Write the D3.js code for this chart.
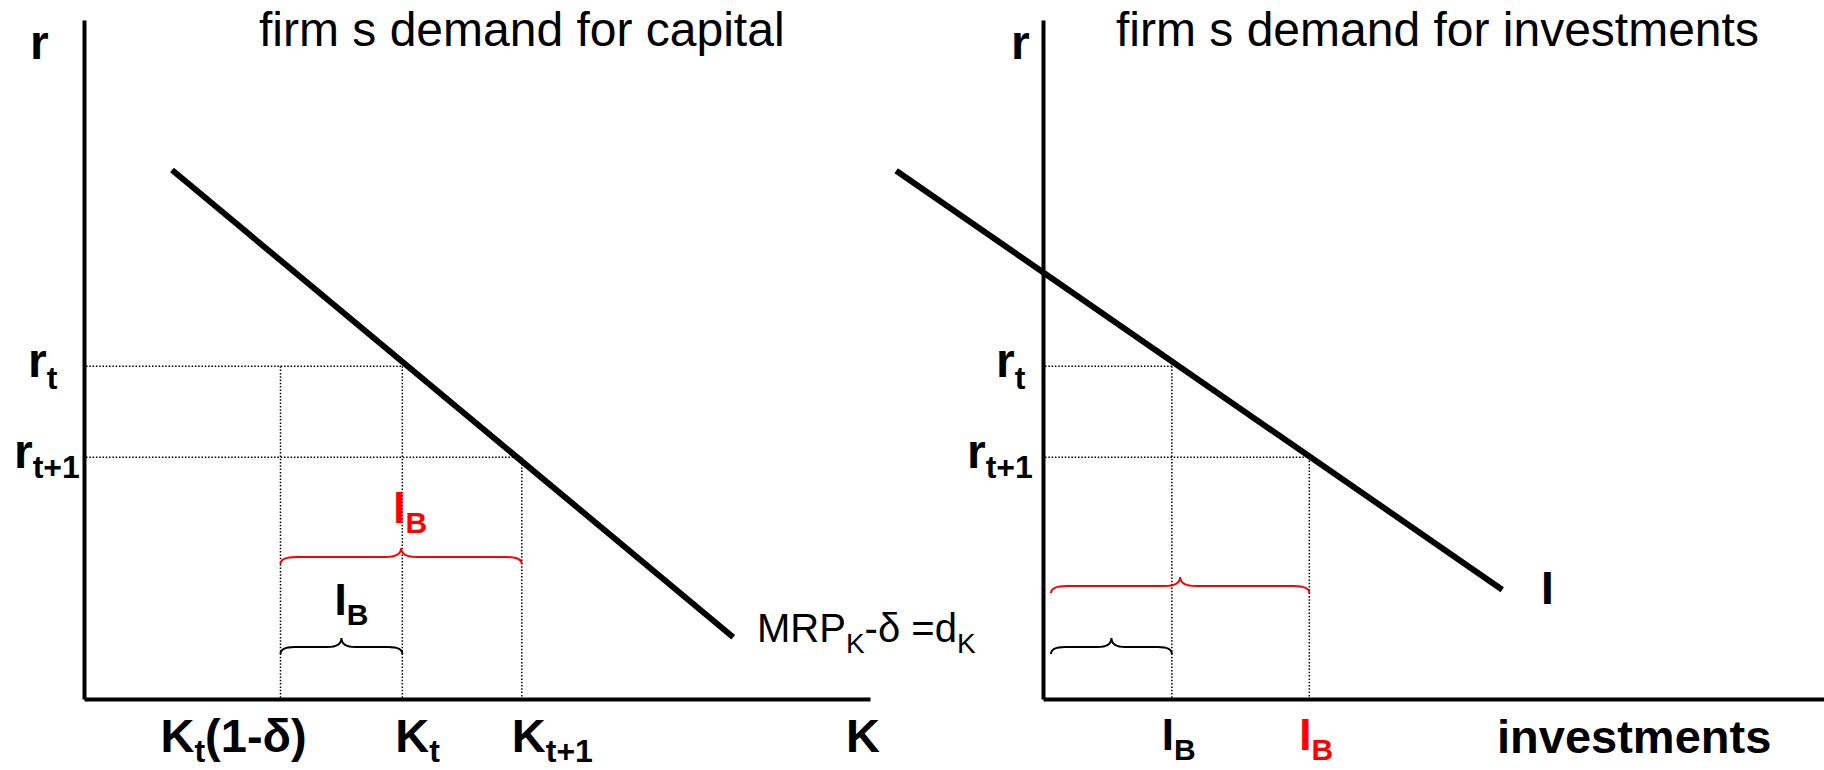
<!DOCTYPE html>
<html>
<head>
<meta charset="utf-8">
<script src="https://cdn.jsdelivr.net/npm/d3@7"></script>
<style>
  html, body { margin: 0; padding: 0; background: #fff; }
  svg { display: block; }
  text { font-family: "Liberation Sans", Arial, Helvetica, sans-serif; fill: #000; }
</style>
</head>
<body>
<svg id="chart" width="1824" height="770"></svg>
<script>
// ---- values (schematic units, r and quantities on a 0..10 scale) ----
const rateValues = [4.9, 3.56];              // r_t, r_{t+1}
const rateSubs = ["t", "t+1"];

const capitalValues = [2.5, 4.05, 5.57];     // K_t(1-δ), K_t, K_{t+1}
const capitalDemandX = [1.12, 8.26];         // MRP_K - δ line, K at its two ends
const capitalDemandR = [7.79, 0.91];         // r at its two ends

const investValues = [1.65, 3.41];           // I_B at r_t, I_B at r_{t+1}
const investDemandX = [-1.88, 5.88];         // I line, investment at its two ends
const investDemandR = [7.78, 1.61];

const titles = ["firm s demand for capital", "firm s demand for investments"];

// ---- layout ----
const svg = d3.select("#chart");
const RED = "#ff0000";

const yR = d3.scaleLinear().domain([0, 10]).range([699, 20]);
const xK = d3.scaleLinear().domain([0, 10]).range([84, 870]);
const xI = d3.scaleLinear().domain([0, 10]).range([1043, 1824]);

// label with an optional subscript and optional trailing text
function label(g, x, y, parts, opts) {
  const o = Object.assign({size: 48, sub: 32, weight: "bold", fill: "#000", shift: 11}, opts || {});
  const t = g.append("text").attr("x", x).attr("y", y)
    .attr("font-size", o.size).attr("font-weight", o.weight).style("fill", o.fill);
  let down = false;
  parts.forEach(p => {
    const ts = t.append("tspan").text(p.text);
    if (p.sub) {
      ts.attr("font-size", o.sub);
      if (!down) { ts.attr("dy", o.shift); down = true; }
    } else if (down) {
      ts.attr("dy", -o.shift); down = false;
    }
  });
  return t;
}

// curly brace lying on its back, tip pointing up
function brace(x1, x2, y, end, tip, r) {
  const xm = (x1 + x2) / 2;
  return `M${x1},${y + end} Q${x1},${y} ${x1 + r},${y} L${xm - r},${y} Q${xm},${y} ${xm},${y - tip}` +
         ` Q${xm},${y} ${xm + r},${y} L${x2 - r},${y} Q${x2},${y} ${x2},${y + end}`;
}

function dotted(g, x1, y1, x2, y2) {
  g.append("line").attr("x1", x1).attr("y1", y1).attr("x2", x2).attr("y2", y2)
    .attr("stroke", "#000").attr("stroke-width", 1.5).attr("stroke-dasharray", "1.5,1.8");
}

function axes(g, x) {
  const ax = g.append("g").attr("transform", `translate(0,${yR(0)})`)
    .call(d3.axisBottom(x).tickValues([]).tickSizeOuter(0));
  const ay = g.append("g").attr("transform", `translate(${x(0)},0)`)
    .call(d3.axisLeft(yR).tickValues([]).tickSizeOuter(0));
  [ax, ay].forEach(a => a.select(".domain").attr("stroke", "#000").attr("stroke-width", 4));
}

const line = d3.line();

// ================= left panel: demand for capital =================
const L = svg.append("g");

// guide lines
dotted(L, xK(0) + 2, yR(rateValues[0]), xK(capitalValues[1]), yR(rateValues[0]));
dotted(L, xK(0) + 2, yR(rateValues[1]), xK(capitalValues[2]), yR(rateValues[1]));
dotted(L, xK(capitalValues[0]), yR(rateValues[0]), xK(capitalValues[0]), yR(0));
dotted(L, xK(capitalValues[1]), yR(rateValues[0]), xK(capitalValues[1]), yR(0));
dotted(L, xK(capitalValues[2]), yR(rateValues[1]), xK(capitalValues[2]), yR(0));

axes(L, xK);

L.append("path")
  .attr("d", line(capitalDemandX.map((k, i) => [xK(k), yR(capitalDemandR[i])])))
  .attr("stroke", "#000").attr("stroke-width", 6).attr("fill", "none");

// braces
L.append("path")
  .attr("d", brace(xK(capitalValues[0]), xK(capitalValues[2]), 557, 7, 9, 16))
  .attr("stroke", RED).attr("stroke-width", 2).attr("fill", "none");
L.append("path")
  .attr("d", brace(xK(capitalValues[0]), xK(capitalValues[1]), 647, 7, 9, 14))
  .attr("stroke", "#000").attr("stroke-width", 2).attr("fill", "none");

const midRed = (xK(capitalValues[0]) + xK(capitalValues[2])) / 2;
const midBlk = (xK(capitalValues[0]) + xK(capitalValues[1])) / 2;
label(L, midRed - 8, 523, [{text: "I"}, {text: "B", sub: true}], {size: 44, sub: 30, fill: RED, shift: 10});
label(L, midBlk - 7, 615, [{text: "I"}, {text: "B", sub: true}], {size: 44, sub: 30, shift: 10});

// axis labels
label(L, 30, 59, [{text: "r"}]);
label(L, 28, yR(rateValues[0]) + 11, [{text: "r"}, {text: rateSubs[0], sub: true}], {shift: 12});
label(L, 14, yR(rateValues[1]) + 11, [{text: "r"}, {text: rateSubs[1], sub: true}], {shift: 10});

label(L, xK(capitalValues[0]) - 120, 752,
  [{text: "K"}, {text: "t", sub: true}, {text: "(1-δ)"}], {size: 47, sub: 32, shift: 10});
label(L, xK(capitalValues[1]) - 7, 752, [{text: "K"}, {text: "t", sub: true}], {size: 47, sub: 32, shift: 10});
label(L, xK(capitalValues[2]) - 10, 752, [{text: "K"}, {text: "t+1", sub: true}], {size: 47, sub: 32, shift: 10});
label(L, 846, 752, [{text: "K"}], {size: 47});

label(L, 757, 642,
  [{text: "MRP"}, {text: "K", sub: true}, {text: "-δ =d"}, {text: "K", sub: true}],
  {size: 40, sub: 28, weight: "normal", shift: 11});

L.append("text").attr("x", 259).attr("y", 46).attr("font-size", 48).text(titles[0]);

// ================= right panel: demand for investments =================
const R = svg.append("g");

dotted(R, xI(0) + 2, yR(rateValues[0]), xI(investValues[0]), yR(rateValues[0]));
dotted(R, xI(0) + 2, yR(rateValues[1]), xI(investValues[1]), yR(rateValues[1]));
dotted(R, xI(investValues[0]), yR(rateValues[0]), xI(investValues[0]), yR(0));
dotted(R, xI(investValues[1]), yR(rateValues[1]), xI(investValues[1]), yR(0));

axes(R, xI);

R.append("path")
  .attr("d", line(investDemandX.map((v, i) => [xI(v), yR(investDemandR[i])])))
  .attr("stroke", "#000").attr("stroke-width", 6).attr("fill", "none");

R.append("path")
  .attr("d", brace(xI(0) + 8, xI(investValues[1]), 586, 7, 9, 16))
  .attr("stroke", RED).attr("stroke-width", 2).attr("fill", "none");
R.append("path")
  .attr("d", brace(xI(0) + 8, xI(investValues[0]), 647, 7, 9, 14))
  .attr("stroke", "#000").attr("stroke-width", 2).attr("fill", "none");

label(R, 1011, 59, [{text: "r"}]);
label(R, 996, yR(rateValues[0]) + 11, [{text: "r"}, {text: rateSubs[0], sub: true}], {shift: 12});
label(R, 967, yR(rateValues[1]) + 11, [{text: "r"}, {text: rateSubs[1], sub: true}], {shift: 10});

label(R, xI(investValues[0]) - 10, 750, [{text: "I"}, {text: "B", sub: true}], {size: 44, sub: 30, shift: 10});
label(R, xI(investValues[1]) - 10, 750, [{text: "I"}, {text: "B", sub: true}], {size: 44, sub: 30, fill: RED, shift: 10});
label(R, 1497, 753, [{text: "investments"}], {size: 47});

label(R, 1541, 604, [{text: "I"}], {size: 46});

R.append("text").attr("x", 1116).attr("y", 46).attr("font-size", 48).text(titles[1]);
</script>
</body>
</html>
